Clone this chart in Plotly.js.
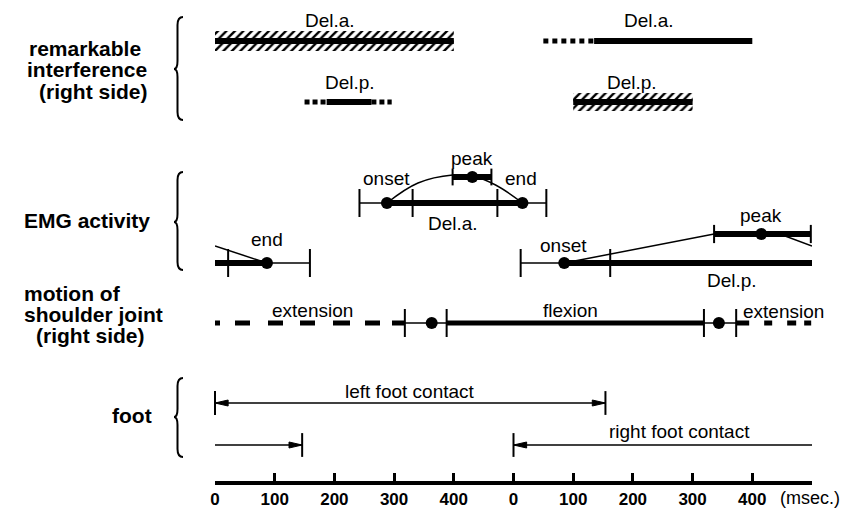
<!DOCTYPE html>
<html><head><meta charset="utf-8">
<script src="https://cdn.plot.ly/plotly-3.0.1.min.js"></script>
<style>html,body{margin:0;padding:0;background:#fff}</style>
</head><body>
<div id="chart" style="width:846px;height:510px"></div>
<script>
// ---------- time axis (msec, second stride cycle starts at 500) ----------
const tickValues = [0, 100, 200, 300, 400, 500, 600, 700, 800, 900];
const tickLabels = ['0', '100', '200', '300', '400', '0', '100', '200', '300', '400'];

// ---------- vertical levels of the rows ----------
const rowInterfA = 442, rowInterfP = 381;
const rowEmgA = 280, rowEmgAPeak = 306;
const rowEmgP = 220, rowEmgPPeak = 249;
const rowShoulder = 160;
const rowFootL = 80, rowFootR = 38;

// ---------- remarkable interference ----------
const interfDelAHatched = [0, 400];
const interfDelADotted = [550, 635];
const interfDelASolid = [635, 900];
const interfDelPDottedL = [150, 187];
const interfDelPSolid = [187, 262];
const interfDelPDottedR = [262, 296];
const interfDelPHatched = [600, 800];

// ---------- EMG activity: [lower, mean, upper] ----------
const delAOnset = [242, 288, 331];
const delAPeak = [398, 431, 463];
const delAEnd = [473, 515, 555];
const delACurveX = [288, 340, 398, 431, 470, 515];
const delACurveY = [280, 300, 308, 307, 298, 280];

const delPOnset = [512, 585, 662];
const delPPeak = [836, 915, 998];
const delPEnd = [22, 87, 159];
const delPCurveX = [585, 836, 955, 1000];
const delPCurveY = [220, 249, 247, 237];
const delPWrapX = [0, 87];
const delPWrapY = [237, 220];

// ---------- shoulder joint: [lower, mean, upper] ----------
const flexionStart = [318, 363, 388];
const extensionStart = [819, 844, 873];

// ---------- foot contact ----------
const leftFootContact = [0, 654];
const rightFootContact = [500, 1000];
const rightFootContactPrevEnd = 146;

const traces = [];
function seg(x0, x1, y, w, dash) {
  traces.push({type: 'scatter', mode: 'lines', x: [x0, x1], y: [y, y],
    line: {color: 'black', width: w, dash: dash || 'solid'}, hoverinfo: 'skip'});
}
function caps(xs, y, size, w) {
  traces.push({type: 'scatter', mode: 'markers', x: xs, y: xs.map(() => y), cliponaxis: false,
    marker: {symbol: 'line-ns-open', size: size, color: 'black', line: {color: 'black', width: w || 2}}, hoverinfo: 'skip'});
}
function dots(xs, y, size) {
  traces.push({type: 'scatter', mode: 'markers', x: xs, y: xs.map(() => y), cliponaxis: false,
    marker: {symbol: 'circle', size: size || 12, color: 'black'}, hoverinfo: 'skip'});
}
function curve(xs, ys, shape) {
  traces.push({type: 'scatter', mode: 'lines', x: xs, y: ys,
    line: {color: 'black', width: 1.5, shape: shape || 'linear', smoothing: 1.1}, hoverinfo: 'skip'});
}
function hatched(range, y, h) {
  traces.push({type: 'bar', orientation: 'h', y: [y], x: [range[1] - range[0]], base: [range[0]], width: [h],
    marker: {color: 'white', line: {width: 0},
      pattern: {shape: '/', fgcolor: 'black', bgcolor: 'white', size: 6, solidity: 0.4}}, hoverinfo: 'skip'});
  seg(range[0], range[1], y, 6);
}
function arrowHead(tip, y, dir) {
  const L = 22, H = 3;
  traces.push({type: 'scatter', mode: 'lines', x: [tip, tip - dir * L, tip - dir * L, tip], y: [y, y + H, y - H, y],
    fill: 'toself', fillcolor: 'black', line: {color: 'black', width: 1}, hoverinfo: 'skip'});
}

// remarkable interference
hatched(interfDelAHatched, rowInterfA, 20);
seg(interfDelADotted[0], interfDelADotted[1], rowInterfA, 5, '5px,4px');
seg(interfDelASolid[0], interfDelASolid[1], rowInterfA, 6);
seg(interfDelPDottedL[0], interfDelPDottedL[1], rowInterfP, 5, '5px,3px');
seg(interfDelPSolid[0], interfDelPSolid[1], rowInterfP, 6);
seg(interfDelPDottedR[0], interfDelPDottedR[1], rowInterfP, 5, '5px,3px');
hatched(interfDelPHatched, rowInterfP, 18);

// EMG Del.a.
curve(delACurveX, delACurveY, 'spline');
seg(delAOnset[0], delAOnset[1], rowEmgA, 1.5);
seg(delAOnset[1], delAEnd[1], rowEmgA, 6);
seg(delAEnd[1], delAEnd[2], rowEmgA, 1.5);
caps([delAOnset[0], delAOnset[2], delAEnd[0], delAEnd[2]], rowEmgA, 20, 2);
dots([delAOnset[1], delAEnd[1]], rowEmgA, 12);
seg(delAPeak[0], delAPeak[2], rowEmgAPeak, 6);
caps([delAPeak[0], delAPeak[2]], rowEmgAPeak, 12, 2);
dots([delAPeak[1]], rowEmgAPeak, 12);

// EMG Del.p.
curve(delPCurveX, delPCurveY);
curve(delPWrapX, delPWrapY);
seg(delPOnset[0], delPOnset[1], rowEmgP, 1.5);
seg(delPOnset[1], 1000, rowEmgP, 6);
caps([delPOnset[0], delPOnset[2]], rowEmgP, 20, 2);
dots([delPOnset[1]], rowEmgP, 12);
seg(delPPeak[0], delPPeak[2], rowEmgPPeak, 6);
caps([delPPeak[0], delPPeak[2]], rowEmgPPeak, 13, 2);
dots([delPPeak[1]], rowEmgPPeak, 12);
seg(0, delPEnd[1], rowEmgP, 6);
seg(delPEnd[1], delPEnd[2], rowEmgP, 1.5);
caps([delPEnd[0], delPEnd[2]], rowEmgP, 20, 2);
dots([delPEnd[1]], rowEmgP, 12);

// shoulder joint
seg(0, flexionStart[0], rowShoulder, 5, '5px,15px,15px,18px,15px,17px,15px,18px,17px,15px,15px,12px,13px,60px');
seg(flexionStart[0], flexionStart[2], rowShoulder, 1.5);
seg(flexionStart[2], extensionStart[0], rowShoulder, 5);
seg(extensionStart[0], extensionStart[2], rowShoulder, 1.5);
seg(extensionStart[2], 1000, rowShoulder, 5, '13px,15px,8px,15px,9px,8px,7px,40px');
caps([flexionStart[0], flexionStart[2], extensionStart[0], extensionStart[2]], rowShoulder, 20, 2);
dots([flexionStart[1], extensionStart[1]], rowShoulder, 12);

// foot
seg(leftFootContact[0], leftFootContact[1], rowFootL, 1.5);
arrowHead(leftFootContact[0], rowFootL, -1);
arrowHead(leftFootContact[1], rowFootL, 1);
caps(leftFootContact, rowFootL, 17, 2);
seg(0, rightFootContactPrevEnd, rowFootR, 1.5);
arrowHead(rightFootContactPrevEnd, rowFootR, 1);
seg(rightFootContact[0], rightFootContact[1], rowFootR, 1.5);
arrowHead(rightFootContact[0], rowFootR, -1);
caps([rightFootContactPrevEnd, rightFootContact[0]], rowFootR, 17, 2);

// ---------- text ----------
const LBL = {family: 'Liberation Sans, Arial, sans-serif', size: 19, color: 'black'};
const BOLD = {family: 'Liberation Sans, Arial, sans-serif', size: 21, color: 'black'};
const annotations = [];
function lab(text, x, y) {
  annotations.push({text: text, x: x, y: y, xref: 'x', yref: 'y', showarrow: false, font: LBL, xanchor: 'center', yanchor: 'middle'});
}
lab('Del.a.', 192, 463);
lab('Del.a.', 727, 463);
lab('Del.p.', 226, 401);
lab('Del.p.', 699, 401);
lab('peak', 431, 325);
lab('onset', 288, 305);
lab('end', 513, 305);
lab('Del.a.', 398, 260);
lab('end', 87, 244);
lab('onset', 584, 238);
lab('peak', 915, 268);
lab('Del.p.', 866, 203);
lab('extension', 164, 173);
lab('flexion', 595, 173);
lab('extension', 953, 172);
lab('left foot contact', 326, 92);
lab('right foot contact', 778, 52);

const pxToPaper = px => (px - 215) / 597;
function side(text, px, y) {
  annotations.push({text: '<b>' + text + '</b>', x: pxToPaper(px), y: y, xref: 'paper', yref: 'y', showarrow: false,
    font: BOLD, xanchor: 'left', yanchor: 'middle', borderpad: 0});
}
side('remarkable', 28, 435);
side('interference', 26, 413.5);
side('(right side)', 38, 392);
side('EMG activity', 23, 263);
side('motion of', 23, 190);
side('shoulder joint', 23, 169);
side('(right side)', 35, 148);
side('foot', 111, 68);

annotations.push({text: '(msec.)', x: 997, y: -0.036, xref: 'x', yref: 'paper', showarrow: false,
  font: {family: 'Liberation Sans, Arial, sans-serif', size: 18, color: 'black'}, xanchor: 'center', yanchor: 'middle'});

// braces
function brace(top, tip, bot) {
  const xe = pxToPaper(183), xb = pxToPaper(177.5), xt = pxToPaper(174);
  const r = 8;
  const p = `M ${xe},${top} Q ${xb},${top} ${xb},${top - r} L ${xb},${tip + r} Q ${xb},${tip} ${xt},${tip} ` +
            `Q ${xb},${tip} ${xb},${tip - r} L ${xb},${bot + r} Q ${xb},${bot} ${xe},${bot}`;
  return {type: 'path', path: p, xref: 'paper', yref: 'y', line: {color: 'black', width: 2}};
}
const shapes = [brace(466, 414, 363), brace(311, 261, 213), brace(105, 66, 26)];

const layout = {
  width: 846, height: 510,
  margin: {l: 215, r: 34, t: 0, b: 29, pad: 0},
  paper_bgcolor: 'white', plot_bgcolor: 'white',
  showlegend: false, barmode: 'overlay',
  xaxis: {range: [0, 1000], showgrid: false, zeroline: false, showline: true, linewidth: 4, linecolor: 'black',
    ticks: 'inside', ticklen: 8, tickwidth: 3, tickcolor: 'black',
    tickmode: 'array', tickvals: tickValues, ticktext: tickLabels,
    tickfont: {family: 'Liberation Sans, Arial, sans-serif', size: 17, color: 'black', weight: 'bold'}, fixedrange: true},
  yaxis: {range: [2, 483], visible: false, fixedrange: true},
  annotations: annotations, shapes: shapes
};
Plotly.newPlot('chart', traces, layout, {staticPlot: true, displayModeBar: false});
</script>
</body></html>
